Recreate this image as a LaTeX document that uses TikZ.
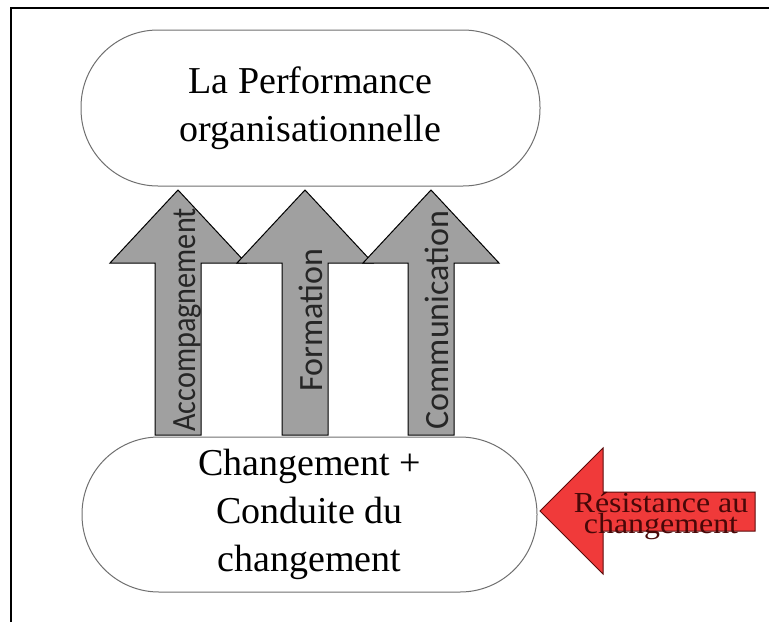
\documentclass[tikz,border=0pt]{standalone}
\usepackage{fontspec}
\setmainfont{Liberation Serif}
\newfontfamily\calib{Carlito}
\usepackage{tikz}
\definecolor{gristrait}{HTML}{707070}
\definecolor{grisfleche}{HTML}{A0A0A0}
\definecolor{rouge}{HTML}{F03A3A}
\definecolor{rougefonce}{HTML}{5A0A0A}
\tikzset{
  boite/.style = {draw=gristrait, line width=1pt, fill=white, rounded corners=77pt,
    align=center, font=\fontsize{38}{48}\selectfont},
  etiq/.style = {rotate=90, anchor=base, text=black!85, font=\calib\fontsize{34}{34}\selectfont},
}
\newcommand{\fleche}[3]{\draw[fill=grisfleche, line width=1pt] (#1-23,435) -- (#1-23,263) -- (#1-68,263)
  -- (#1,190) -- (#1+68,263) -- (#1+23,263) -- (#1+23,435) -- cycle;
  \node[etiq] (#2) at (#1+17,320) {#3}}

\begin{document}
\begin{tikzpicture}[x=1pt, y=-1pt]
\useasboundingbox (0,0) rectangle (769,622);
%Frame
	\draw[line width=2.2pt] (11,622) -- (11,8) -- (769,8);
%Boxes
	\node[boite, minimum width=459pt, minimum height=156pt] (perf) at (310.5,108)
	  {La Performance\\organisationnelle};
	\node[boite, minimum width=455pt, minimum height=155pt] (chgt) at (309.5,514.5)
	  {Changement +\\Conduite du\\changement};
%The three levers
	\fleche{178}{acc}{\scalebox{0.89}[1]{Accompagnement}};
	\fleche{305}{form}{Formation};
	\fleche{431}{comm}{Communication};
%Resistance
	\draw[fill=rouge, draw=rougefonce, line width=1pt] (540,511) -- (603,448) -- (603,492)
	  -- (755,492) -- (755,531) -- (603,531) -- (603,574) -- cycle;
	\node[align=center, xscale=1.1, transform shape, text=rougefonce!80!black,
	  font=\fontsize{29}{15}\selectfont] (resist) at (661,516) {Résistance au\\changement};
\end{tikzpicture}
\end{document}
